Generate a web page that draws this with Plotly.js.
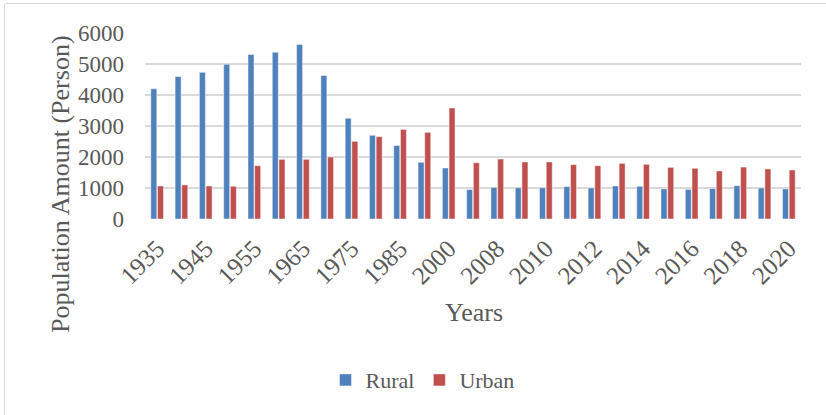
<!DOCTYPE html>
<html>
<head>
<meta charset="utf-8">
<script src="https://cdn.plot.ly/plotly-3.0.1.min.js"></script>
<style>
html,body{margin:0;padding:0;background:#fff;}
#frame{position:absolute;left:4px;top:3px;width:830px;height:420px;border:1.5px solid #d9d9d9;border-radius:3px;}
#chart{position:absolute;left:0;top:0;width:826px;height:415px;}
</style>
</head>
<body>
<div id="frame"></div>
<div id="chart"></div>
<script>
const years = ["1935","1940","1945","1950","1955","1960","1965","1970","1975","1980","1985","1990","2000","2007","2008","2009","2010","2011","2012","2013","2014","2015","2016","2017","2018","2019","2020"];
const rural = [4200,4600,4730,4990,5310,5380,5630,4630,3250,2700,2370,1830,1645,950,1020,1010,1010,1045,1000,1065,1055,970,955,980,1075,1000,970];
const urban = [1065,1100,1065,1055,1720,1925,1925,2000,2505,2655,2890,2795,3580,1815,1935,1840,1840,1755,1720,1795,1765,1665,1635,1550,1675,1615,1580];
const tickLabels = ["1935","1945","1955","1965","1975","1985","2000","2008","2010","2012","2014","2016","2018","2020"];
const xTitle = "Years";
const yTitle = "Population Amount (Person)";

const serif = "Liberation Serif, Times New Roman, serif";
const grey = "#595959";
const traces = [
  {type:"bar", name:"Rural", x:years, y:rural, marker:{color:"#4F81BD", line:{color:"rgba(255,255,255,0.6)", width:0.8}}},
  {type:"bar", name:"Urban", x:years, y:urban, marker:{color:"#C0504D", line:{color:"rgba(255,255,255,0.6)", width:0.8}}}
];
const layout = {
  width:826, height:415,
  margin:{l:145, r:25, t:33, b:196},
  paper_bgcolor:"rgba(0,0,0,0)", plot_bgcolor:"#fff",
  font:{family:serif, color:grey, size:20},
  barmode:"group", bargap:0.45, bargroupgap:0.1,
  xaxis:{type:"category", tickmode:"array", tickvals:tickLabels, ticktext:tickLabels, tickangle:-45,
         showgrid:false, zeroline:false, showline:false, ticks:"", tickfont:{size:25}, ticklabelstandoff:9},
  yaxis:{range:[0,6000], dtick:1000, showgrid:true, gridcolor:"#d9d9d9", gridwidth:1.5, zeroline:false,
         ticks:"", tickfont:{size:23}, ticklabelstandoff:20},
  annotations:[
    {text:xTitle, xref:"paper", yref:"paper", x:0.5015, y:-0.505, xanchor:"center", yanchor:"middle", showarrow:false, font:{size:26, color:grey}},
    {text:yTitle, xref:"paper", yref:"paper", x:-0.1296, y:0.188, xanchor:"center", yanchor:"middle", textangle:-90, showarrow:false, font:{size:26, color:grey}}
  ],
  legend:{orientation:"h", x:0.423, xanchor:"center", y:-0.866, yanchor:"middle", font:{size:22}, itemwidth:30, tracegroupgap:0},
  showlegend:true
};
Plotly.newPlot("chart", traces, layout, {displayModeBar:false, staticPlot:true});
</script>
</body>
</html>
